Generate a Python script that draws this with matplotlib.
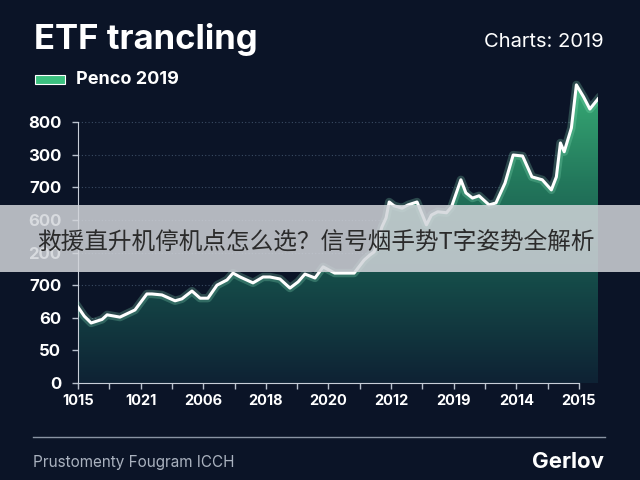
import numpy as np
import matplotlib
matplotlib.use("Agg")
import matplotlib.pyplot as plt
from matplotlib.colors import LinearSegmentedColormap
from matplotlib.patches import Rectangle
from matplotlib.lines import Line2D

# Data (x in tick steps, y in tick steps)
x = np.array([0.0, 0.2, 0.42, 0.77, 0.93, 1.34, 1.82, 2.2, 2.36, 2.68, 3.1, 3.32,
              3.64, 3.9, 4.15, 4.44, 4.76, 4.95, 5.18, 5.59, 5.91, 6.13, 6.45, 6.77,
              7.03, 7.25, 7.57, 7.83, 8.2, 8.5, 8.82, 9.14, 9.33, 9.46, 9.71, 9.84,
              9.94, 10.1, 10.22, 10.35, 10.54, 10.83, 11.13, 11.29, 11.49, 11.77,
              11.93, 12.23, 12.39, 12.6, 12.81, 13.13, 13.35, 13.64, 13.9, 14.2,
              14.5, 14.83, 15.12, 15.28, 15.41, 15.53, 15.76, 15.92, 16.15, 16.35, 16.61])
y = np.array([2.33, 2.05, 1.84, 1.95, 2.09, 2.02, 2.24, 2.73, 2.73, 2.7, 2.52, 2.58,
              2.82, 2.6, 2.6, 3.0, 3.16, 3.37, 3.25, 3.07, 3.25, 3.25, 3.19, 2.91,
              3.1, 3.34, 3.22, 3.56, 3.37, 3.37, 3.37, 3.77, 3.93, 4.02, 4.79, 5.06,
              5.55, 5.43, 5.4, 5.36, 5.46, 5.55, 4.85, 5.15, 5.25, 5.22, 5.4, 6.23,
              5.83, 5.67, 5.74, 5.46, 5.52, 6.13, 6.99, 6.96, 6.32, 6.23, 5.92, 6.32,
              7.36, 7.09, 7.82, 9.14, 8.77, 8.4, 8.71])

ytick_labels = ["0", "50", "60", "700", "200", "600", "700", "300", "800"]
xtick_labels = ["1015", "1021", "2006", "2018", "2020", "2012", "2019", "2014", "2015"]

bg = "#0b1427"
font = "Inter"
fig = plt.figure(figsize=(6.4, 4.8), dpi=100, facecolor=bg)
ax = fig.add_axes([78 / 640, 1 - 383 / 480, 520 / 640, 303 / 480], facecolor=bg)
xmax, ymax = x[-1], 9.29
ax.set_xlim(0, xmax)
ax.set_ylim(0, ymax)

# gradient fill clipped by the area
cmap = LinearSegmentedColormap.from_list("g", ["#0e2234", "#154a48", "#23785c", "#38ad76"])
grad = np.linspace(0, 1, 256).reshape(-1, 1)
img = ax.imshow(grad, extent=[0, xmax, 0, ymax], origin="lower", aspect="auto",
                cmap=cmap, zorder=2)
poly = ax.fill_between(x, 0, y, color="none", zorder=1)
img.set_clip_path(poly.get_paths()[0], transform=ax.transData)

ax.plot(x, y, color="#8fe8c0", lw=6, alpha=0.25, zorder=3, solid_joinstyle="round")
ax.plot(x, y, color="white", lw=2.2, zorder=4, solid_joinstyle="round")

ax.set_yticks(range(9))
ax.set_yticklabels(ytick_labels)
ax.set_xticks(range(0, 17, 2))
ax.set_xticklabels(xtick_labels)
ax.set_xticks(range(1, 17, 2), minor=True)
ax.tick_params(colors="#b8c0cc", labelcolor="white", length=4, width=1)
ax.tick_params(which="minor", colors="#b8c0cc", length=4, width=1)
for lab in ax.get_yticklabels():
    lab.set_fontsize(12)
    lab.set_fontweight("bold")
    lab.set_family(font)
for lab in ax.get_xticklabels():
    lab.set_fontsize(10.5)
    lab.set_fontweight("bold")
    lab.set_family(font)
ax.tick_params(axis="y", pad=8)
ax.tick_params(axis="x", pad=4)
ax.yaxis.grid(True, linestyle=(0, (1, 2)), color="#3a4b63", lw=0.8)
ax.set_axisbelow(True)
for s in ["top", "right"]:
    ax.spines[s].set_visible(False)
ax.spines["left"].set_color("#c8ced8")
ax.spines["bottom"].set_color("#c8ced8")
ax.spines["left"].set_bounds(0, 8)
ax.spines["bottom"].set_bounds(0, 16)

# header
fig.text(34 / 640, 1 - 40 / 480, "ETF trancling", color="white", fontsize=25,
         fontweight="bold", va="center", ha="left", family=font)
fig.text(604 / 640, 1 - 42 / 480, "Charts: 2019", color="white", fontsize=14.5,
         va="center", ha="right", family=font)
fig.patches.append(Rectangle((35 / 640, 1 - 84 / 480), 30 / 640, 9 / 480,
                             transform=fig.transFigure, facecolor="#3cc07f",
                             edgecolor="white", lw=0.8))
fig.text(76 / 640, 1 - 80 / 480, "Penco 2019", color="white", fontsize=13,
         fontweight="bold", va="center", ha="left", family=font)

# footer
fig.add_artist(Line2D([33 / 640, 605 / 640], [1 - 437 / 480, 1 - 437 / 480],
                      color="#8a94a3", lw=1, transform=fig.transFigure))
fig.text(33 / 640, 1 - 462 / 480, "Prustomenty Fougram ICCH", color="#aab2bf",
         fontsize=11, va="center", ha="left", family=font)
fig.text(604 / 640, 1 - 462 / 480, "Gerlov", color="white", fontsize=16,
         fontweight="bold", va="center", ha="right", family=font)

# overlay banner
fig.patches.append(Rectangle((0, 1 - 272 / 480), 1, 67 / 480, transform=fig.transFigure,
                             facecolor="#d2d5da", alpha=0.85, zorder=10))
fig.text(37 / 640, 1 - 242 / 480, "救援直升机停机点怎么选？信号烟手势T字姿势全解析",
         color="#2b2b2b", fontsize=17, va="center", ha="left", zorder=11,
         family=["Noto Sans CJK SC", "DejaVu Sans"])

fig.savefig("out.png", dpi=100, facecolor=bg)
